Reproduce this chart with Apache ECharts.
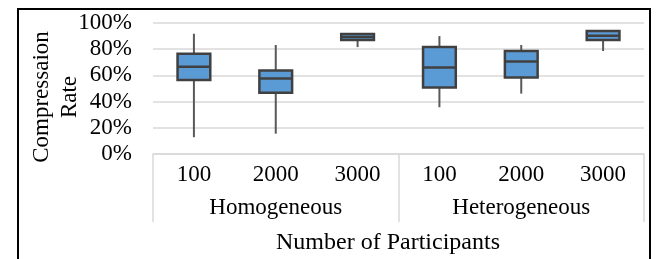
<!DOCTYPE html>
<html>
<head>
<meta charset="utf-8">
<script src="https://cdn.jsdelivr.net/npm/echarts@6/dist/echarts.min.js"></script>
<style>
  html, body { margin: 0; padding: 0; background: #fff; }
  #main { width: 658px; height: 259px; }
</style>
</head>
<body>
<div id="main"></div>
<script>
// participants per box, and the two settings they belong to
var categories = ['100', '2000', '3000', '100', '2000', '3000'];
var groups = ['Homogeneous', 'Heterogeneous'];
var yTicks = [0, 20, 40, 60, 80, 100];

// box statistics in percent
var lows    = [12.8, 15.5, 81.6, 35.7, 46.1, 78.6];
var q1s     = [56.4, 46.7, 87.0, 50.7, 58.4, 87.0];
var medians = [66.6, 57.6, 89.3, 66.0, 70.6, 90.3];
var q3s     = [76.5, 63.7, 91.6, 81.6, 78.6, 93.9];
var highs   = [91.8, 83.2, 92.0, 90.0, 83.2, 94.3];

var font = 'Liberation Serif';
var chart = echarts.init(document.getElementById('main'));

var boxData = categories.map(function (c, i) {
	return [i, lows[i], q1s[i], medians[i], q3s[i], highs[i]];
});

// whiskers without end caps, so a custom series instead of boxplot
function renderBox(params, api) {
	var i = api.value(0);
	var pLow = api.coord([i, api.value(1)]);
	var pQ1 = api.coord([i, api.value(2)]);
	var pMed = api.coord([i, api.value(3)]);
	var pQ3 = api.coord([i, api.value(4)]);
	var pHigh = api.coord([i, api.value(5)]);
	var w = api.size([1, 0])[0] * 0.4;
	var x = pMed[0];
	var whisker = { stroke: '#595959', lineWidth: 2 };
	var edge = '#404040';
	return {
		type: 'group',
		children: [
			{ type: 'line', shape: { x1: x, y1: pLow[1], x2: x, y2: pQ1[1] }, style: whisker },
			{ type: 'line', shape: { x1: x, y1: pQ3[1], x2: x, y2: pHigh[1] }, style: whisker },
			{ type: 'rect', shape: { x: x - w / 2, y: pQ3[1], width: w, height: pQ1[1] - pQ3[1] },
				style: { fill: '#5B9BD5', stroke: edge, lineWidth: 2.5 } },
			{ type: 'line', shape: { x1: x - w / 2, y1: pMed[1], x2: x + w / 2, y2: pMed[1] },
				style: { stroke: edge, lineWidth: 2.5 } }
		]
	};
}

var option = {
	animation: false,
	backgroundColor: '#fff',
	textStyle: { fontFamily: font },
	grid: { left: 153, right: 14, top: 23, bottom: 105 },
	xAxis: [{
		type: 'category',
		data: categories,
		position: 'bottom',
		axisLine: { show: false },
		axisTick: { show: false },
		axisLabel: { fontFamily: font, fontSize: 23, color: '#000', margin: 9, interval: 0 }
	}, {
		type: 'category',
		data: groups,
		position: 'bottom',
		offset: 0,
		axisLine: { show: true, lineStyle: { color: '#D9D9D9', width: 1.5 } },
		axisTick: { show: true, length: 68, lineStyle: { color: '#D9D9D9', width: 1.5 } },
		axisLabel: { fontFamily: font, fontSize: 23, color: '#000', margin: 42 }
	}],
	yAxis: {
		type: 'value',
		min: yTicks[0],
		max: yTicks[yTicks.length - 1],
		interval: 20,
		axisLine: { show: false },
		axisTick: { show: false },
		axisLabel: { fontFamily: font, fontSize: 23, color: '#000', margin: 21, formatter: '{value}%' },
		splitLine: { lineStyle: { color: '#D9D9D9', width: 1.5 } }
	},
	graphic: [{
		type: 'rect',
		shape: { x: 18, y: 9, width: 632, height: 270 },
		style: { fill: 'none', stroke: '#000', lineWidth: 2 },
		silent: true
	}, {
		type: 'text',
		x: 56,
		y: 97,
		rotation: Math.PI / 2,
		style: {
			text: 'Compressaion\nRate',
			font: '23px "Liberation Serif"',
			fill: '#000',
			align: 'center',
			verticalAlign: 'middle',
			lineHeight: 28
		}
	}, {
		type: 'text',
		x: 388,
		y: 243,
		style: {
			text: 'Number of Participants',
			font: '24px "Liberation Serif"',
			fill: '#000',
			align: 'center',
			verticalAlign: 'middle'
		}
	}],
	series: [{
		type: 'custom',
		xAxisIndex: 0,
		renderItem: renderBox,
		encode: { x: 0, y: [1, 2, 3, 4, 5] },
		data: boxData
	}]
};
chart.setOption(option);
</script>
</body>
</html>
